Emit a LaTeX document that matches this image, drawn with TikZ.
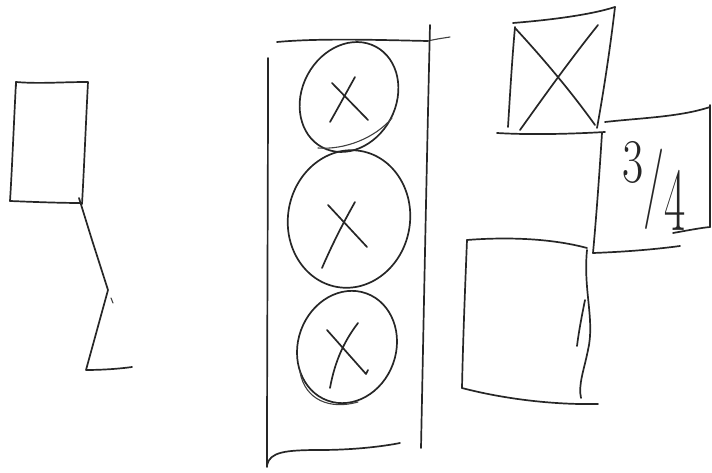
\documentclass[tikz,border=0pt]{standalone}
\usepackage{graphicx}
\begin{document}
\begin{tikzpicture}[x=1pt,y=-1pt,
  pen/.style={draw=black!85,line width=1.7pt,line cap=round,line join=round},
  thin pen/.style={draw=black!75,line width=1.1pt,line cap=round}]
\useasboundingbox (0,0) rectangle (712,473);
% ---- left figure ----
\draw[pen] (16,86) -- (16,82) .. controls (40,84) and (60,82) .. (88,82)
  .. controls (86,120) and (84,170) .. (82,204);
\draw[pen] (16,82) .. controls (14,120) and (12,170) .. (10,201);
\draw[pen] (10,201) .. controls (35,202) and (60,203) .. (82,203);
\draw[pen] (79,198) -- (92,240) -- (108,290) -- (86,370) .. controls (100,370) and (118,369) .. (132,367);
\draw[thin pen] (111,298) -- (113,303);
% ---- middle column ----
\draw[pen] (277,42) .. controls (320,38) and (380,40) .. (428,41);
\draw[thin pen] (428,41) .. controls (436,39) and (444,38) .. (450,37);
\draw[pen] (430,25) .. controls (427,150) and (424,300) .. (421,448);
\draw[pen] (268,58) .. controls (268,200) and (267,350) .. (267,467);
\draw[pen] (267,465) .. controls (270,452) and (285,450) .. (320,450)
  .. controls (350,450) and (380,447) .. (400,443);
% circles
\draw[pen,shift={(349,97)},rotate=62] (0,0) ellipse [x radius=57, y radius=47];
\draw[thin pen] (318,148) .. controls (345,150) and (375,138) .. (392,118);
\draw[pen,shift={(349,219)},rotate=80] (0,0) ellipse [x radius=69, y radius=61];
\draw[pen,shift={(347,347)},rotate=70] (0,0) ellipse [x radius=57, y radius=49];
\draw[thin pen] (300,372) .. controls (305,400) and (330,410) .. (358,402);
% X marks
\draw[pen] (332,83) -- (368,120);
\draw[pen] (355,77) .. controls (345,95) and (338,108) .. (330,122);
\draw[pen] (328,205) -- (367,247);
\draw[pen] (355,202) .. controls (342,225) and (332,245) .. (322,268);
\draw[pen] (327,330) -- (366,374) -- (368,370);
\draw[pen] (358,323) .. controls (345,340) and (335,360) .. (330,388);
% ---- right: crossed box ----
\draw[pen] (513,23) .. controls (550,20) and (590,15) .. (615,7);
\draw[pen] (615,7) .. controls (610,50) and (603,95) .. (597,128);
\draw[pen] (515,27) .. controls (512,60) and (510,95) .. (508,127);
\draw[pen] (497,133) .. controls (530,135) and (570,134) .. (605,132);
\draw[pen] (515,28) .. controls (540,55) and (570,90) .. (595,125);
\draw[pen] (598,25) .. controls (570,60) and (545,95) .. (520,130);
% ---- right: 3/4 box ----
\draw[pen] (605,122) .. controls (640,118) and (680,117) .. (710,107);
\draw[pen] (710,105) -- (710,227);
\draw[pen] (602,133) .. controls (599,180) and (596,220) .. (593,253);
\draw[pen] (593,253) .. controls (620,252) and (650,250) .. (680,246);
\draw[pen] (673,233) .. controls (690,230) and (700,228) .. (710,227);
\node[text=black!85,font=\fontsize{46}{46}\selectfont,yscale=1.35,inner sep=0pt] (frac) at (654,186)
  {\raisebox{20pt}{3}\scalebox{1}[1.3]{/}\raisebox{-16pt}{\scalebox{1}[1.45]{4}}};
% ---- right: lower box ----
\draw[pen] (467,240) .. controls (505,237) and (550,238) .. (587,248);
\draw[pen] (467,240) .. controls (465,290) and (463,340) .. (462,388);
\draw[pen] (462,388) .. controls (500,398) and (550,405) .. (598,404);
\draw[pen] (587,250) .. controls (583,290) and (595,320) .. (588,350)
  .. controls (584,370) and (578,385) .. (581,398);
\draw[pen] (577,346) .. controls (579,330) and (582,315) .. (585,300);
\end{tikzpicture}
\end{document}
